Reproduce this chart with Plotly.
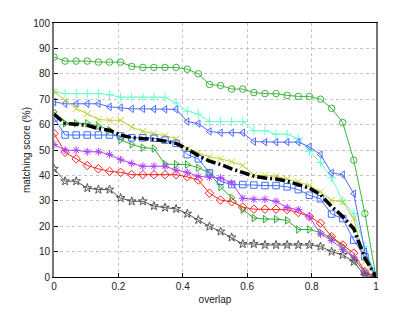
import numpy as np
import plotly.graph_objects as go

n_points = 30
overlap = [i / 29 for i in range(n_points)]

green_circle = [86.6, 85, 85, 85, 84.6, 84.6, 84.6, 82.9, 82.5, 82.5, 82.5, 82.5, 81.8, 80, 75.8,
                75.4, 74, 74, 72.6, 72.2, 72.2, 71.5, 71.1, 71.1, 70, 66.4, 60.8, 46, 25, 0]
cyan_plus = [72.9, 72.2, 72.2, 72.2, 72.2, 71.7, 70.8, 70.8, 70.8, 70.8, 70.8, 68.5, 65.3, 64.2, 61.2,
             61.2, 61.2, 61.2, 57.6, 57.6, 56.2, 56.2, 54.5, 49.5, 45, 39, 30, 25, 12, 0]
blue_tri = [68.9, 68.2, 68.2, 68.2, 68.2, 67, 66.7, 66.2, 66.2, 66.1, 66, 66, 61.2, 60.4, 57.3,
            56.8, 56.8, 56.8, 53.3, 53.1, 53.1, 53.1, 53.1, 51.3, 48.2, 41, 40.3, 32.8, 10, 0]
yellow_x = [73, 69.5, 66.3, 64.3, 62, 61.7, 61.7, 59, 57.4, 56.4, 55.7, 54.4, 50.4, 48.9, 47.3,
            46.5, 45.4, 43.9, 40.1, 39.9, 39.7, 38.6, 37.5, 36, 33.5, 30.2, 29.6, 23, 6, 0]
mean_line = [64.1, 60.5, 60.1, 59.7, 58.4, 57.8, 55.8, 54.9, 54.5, 54.2, 53.5, 52.6, 50.4, 47.8, 45.6,
             44.3, 42.6, 41.2, 39.7, 39, 38.6, 37.7, 36.4, 35, 32.4, 27.8, 23.8, 19, 7.5, 0]
green_tri = [65, 60.5, 60.5, 60.5, 59.5, 57.8, 54, 52.2, 50.9, 50.6, 44.4, 44.4, 44.3, 43, 41,
             35.4, 31.2, 26.5, 23.2, 22.8, 22.8, 22.3, 18.7, 18.7, 17.5, 15.5, 12, 7, 2, 0]
blue_square = [62.6, 55.9, 55.9, 55.9, 55.9, 55.9, 55.5, 54.8, 54.8, 54.6, 53.9, 52.6, 48.2, 46.5, 41,
               37.7, 36.4, 36.4, 36.2, 36, 36, 35.5, 34.4, 32.2, 30.8, 24.8, 23, 14.5, 8, 0]
red_diamond = [56.5, 49.1, 46.5, 43.9, 42.6, 41.6, 41.2, 40.3, 40.3, 40.3, 40.3, 40.3, 39.4, 38.2, 33,
               30.3, 29.6, 27.5, 26.7, 26.7, 26.7, 26.5, 25.4, 23.8, 21.2, 15.9, 12.6, 9.4, 2.1, 0]
purple_ast = [52.2, 49.9, 49.9, 49.3, 49.3, 48.2, 46.2, 44.7, 43.6, 43.6, 43.6, 42.1, 41.2, 39.6, 39.2,
              39, 37, 31, 30.6, 30.6, 29.8, 27.3, 26.5, 23.7, 17, 14.4, 10.9, 7.8, 1.4, 0]
gray_star = [42.6, 37.7, 37.7, 35, 34.4, 34.4, 31.1, 29.8, 29.8, 27.9, 27.3, 26.8, 24.9, 22.5, 19.9,
             17.9, 15.6, 13, 13, 12.6, 12.6, 12.6, 12.6, 12.6, 12, 10, 8.7, 6, 0.5, 0]

x_ticks = [0, 0.2, 0.4, 0.6, 0.8, 1]
x_tick_text = ["0", "0.2", "0.4", "0.6", "0.8", "1"]
y_ticks = [0, 10, 20, 30, 40, 50, 60, 70, 80, 90, 100]

series = [
    (green_circle, "circle-open", "#3cb43c"),
    (cyan_plus, "cross-thin-open", "#66ffcc"),
    (blue_tri, "triangle-left-open", "#4d6bff"),
    (yellow_x, "x-thin-open", "#c0d030"),
    (green_tri, "triangle-right-open", "#33aa33"),
    (blue_square, "square-open", "#4070ff"),
    (red_diamond, "diamond-open", "#ff2020"),
    (purple_ast, "asterisk-open", "#b040ff"),
    (gray_star, "star-open", "#555555"),
]

fig = go.Figure()
for vals, sym, col in series:
    fig.add_trace(go.Scatter(
        x=overlap, y=vals, mode="lines+markers",
        line=dict(color=col, width=1),
        marker=dict(symbol=sym, size=6.5, color=col, line=dict(color=col, width=1)),
        showlegend=False,
    ))

fig.add_trace(go.Scatter(
    x=overlap, y=mean_line, mode="lines",
    line=dict(color="black", width=3.5, dash="10px,3px,2px,3px"),
    showlegend=False,
))

font_family = "Liberation Sans, Arial, sans-serif"
fig.update_layout(
    width=407, height=305,
    margin=dict(l=46, r=39, t=15, b=36, autoexpand=False),
    paper_bgcolor="white", plot_bgcolor="white",
    font=dict(family=font_family, size=10, color="#222"),
    xaxis=dict(
        range=[0, 1], tickvals=x_ticks, ticktext=x_tick_text, automargin=False,
        showgrid=True, gridcolor="#c4c4c4", griddash="dot", gridwidth=1,
        showline=True, linecolor="black", linewidth=1, mirror=True,
        ticks="inside", ticklen=4, tickcolor="black", zeroline=False,
        title=dict(text="overlap", font=dict(size=10), standoff=4),
    ),
    yaxis=dict(
        range=[0, 100], tickvals=y_ticks, automargin=False,
        showgrid=True, gridcolor="#c4c4c4", griddash="dot", gridwidth=1,
        showline=True, linecolor="#777777", linewidth=2, mirror=True,
        ticks="inside", ticklen=4, tickcolor="black", zeroline=False,
        title=dict(text="matching score (%)", font=dict(size=10), standoff=1),
    ),
)

fig.write_html("out.html")
